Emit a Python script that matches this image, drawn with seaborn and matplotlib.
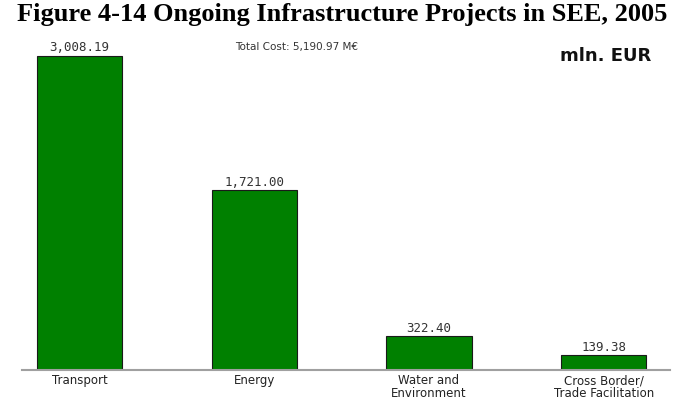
import matplotlib
matplotlib.use("Agg")
import matplotlib.pyplot as plt
import seaborn as sns
import pandas as pd

categories = ["Transport", "Energy", "Water and\nEnvironment", "Cross Border/\nTrade Facilitation"]
values = [3008.19, 1721.00, 322.40, 139.38]
value_labels = ["3,008.19", "1,721.00", "322.40", "139.38"]
title = "Figure 4-14 Ongoing Infrastructure Projects in SEE, 2005"
subtitle = "Total Cost: 5,190.97 M€"
unit = "mln. EUR"

df = pd.DataFrame({"category": categories, "value": values})

sns.set_theme(style="white")
plt.rcParams['font.family'] = ['DejaVu Sans']

fig = plt.figure(figsize=(6.85, 4.01), dpi=100)
ax = fig.add_axes([22/685, 1 - 370/401, (670-22)/685, (370-45)/401])

sns.barplot(data=df, x="category", y="value", color="#008000", saturation=1,
            width=0.49, edgecolor="#1a1a1a", linewidth=0.8, ax=ax)

ax.set_xlim(-0.33, 3.38)
ax.set_ylim(0, 3008.19 * 325 / 314)

for i, (v, lab) in enumerate(zip(values, value_labels)):
    ax.text(i, v + 15, lab, ha="center", va="bottom", fontsize=9,
            color="#333333", family="DejaVu Sans Mono", clip_on=False)

for s in ["top", "right", "left"]:
    ax.spines[s].set_visible(False)
ax.spines["bottom"].set_color("#a0a0a0")
ax.spines["bottom"].set_linewidth(1.5)
ax.set_yticks([])
ax.set_xlabel("")
ax.set_ylabel("")
ax.tick_params(axis="x", length=0, pad=3, labelsize=8.5, labelcolor="#222222")
for t in ax.get_xticklabels():
    t.set_linespacing(1.0)

fig.text(0.5, 1 - 15/401, title, ha="center", va="center", fontsize=19,
         fontweight="bold", family="Liberation Serif", color="black")
fig.text(235/685, 1 - 47/401, subtitle, ha="left", va="center", fontsize=7.5, color="#333333")
fig.text(560/685, 1 - 56/401, unit, ha="left", va="center", fontsize=13,
         fontweight="bold", color="#111111")

fig.savefig("out.png", dpi=100)
